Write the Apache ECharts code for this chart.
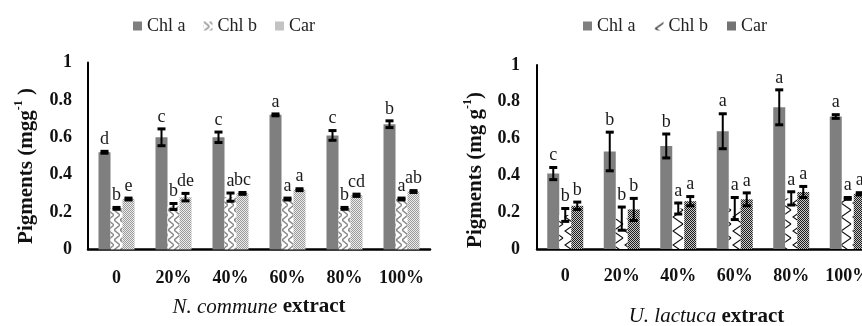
<!DOCTYPE html>
<html>
<head>
<meta charset="utf-8">
<script src="https://cdn.jsdelivr.net/npm/echarts@6/dist/echarts.min.js"></script>
<style>
html,body{margin:0;padding:0;background:#fff;}
#chart{width:862px;height:326px;}
</style>
</head>
<body>
<div id="chart"></div>
<script>
// ---------- data ----------
const categories = ['0', '20%', '40%', '60%', '80%', '100%'];
const seriesNames = ['Chl a', 'Chl b', 'Car'];

// N. commune extract (left panel)
const ncChlA = [0.52, 0.60, 0.60, 0.72, 0.61, 0.67];
const ncChlAErr = [0.005, 0.045, 0.028, 0.005, 0.026, 0.018];
const ncChlB = [0.22, 0.23, 0.28, 0.27, 0.22, 0.27];
const ncChlBErr = [0.005, 0.016, 0.022, 0.005, 0.005, 0.005];
const ncCar = [0.27, 0.28, 0.30, 0.32, 0.29, 0.31];
const ncCarErr = [0.005, 0.02, 0.005, 0.005, 0.006, 0.005];
const ncChlALetters = ['d', 'c', 'c', 'a', 'c', 'b'];
const ncChlBLetters = ['b', 'b', 'a', 'a', 'b', 'a'];
const ncCarLetters = ['e', 'de', 'bc', 'a', 'cd', 'ab'];

// U. lactuca extract (right panel)
const ulChlA = [0.41, 0.53, 0.56, 0.64, 0.77, 0.72];
const ulChlAErr = [0.033, 0.105, 0.065, 0.095, 0.095, 0.01];
const ulChlB = [0.185, 0.165, 0.22, 0.22, 0.275, 0.275];
const ulChlBErr = [0.035, 0.063, 0.03, 0.06, 0.036, 0.005];
const ulCar = [0.235, 0.215, 0.26, 0.27, 0.31, 0.30];
const ulCarErr = [0.02, 0.06, 0.025, 0.035, 0.03, 0.006];
const ulChlALetters = ['c', 'b', 'b', 'a', 'a', 'a'];
const ulChlBLetters = ['b', 'b', 'a', 'a', 'a', 'a'];
const ulCarLetters = ['b', 'b', 'a', 'a', 'a', 'a'];

// ---------- styles ----------
const FONT = '"Liberation Serif", "Times New Roman", serif';
const GRAY = '#7f7f7f';
const BAR_W = 12;

function makePattern(w, h, draw) {
  const c = document.createElement('canvas');
  c.width = w; c.height = h;
  const ctx = c.getContext('2d');
  draw(ctx, w, h);
  return { image: c, repeat: 'repeat' };
}
// left Chl b: gray zigzag on white
const patZigzag = makePattern(6, 10, (ctx, w, h) => {
  ctx.fillStyle = '#fff'; ctx.fillRect(0, 0, w, h);
  ctx.strokeStyle = '#8c8c8c'; ctx.lineWidth = 1.5;
  ctx.beginPath(); ctx.moveTo(0, 0); ctx.lineTo(w, h / 2); ctx.lineTo(0, h); ctx.stroke();
});
// left Car: light gray stipple
const patStippleLight = makePattern(2, 2, (ctx) => {
  ctx.fillStyle = '#ececec'; ctx.fillRect(0, 0, 2, 2);
  ctx.fillStyle = '#9a9a9a'; ctx.fillRect(0, 0, 1, 1); ctx.fillRect(1, 1, 1, 1);
});
// right Chl b: black chevrons on white
const patChevron = makePattern(12, 14, (ctx, w, h) => {
  ctx.fillStyle = '#fff'; ctx.fillRect(0, 0, w, h);
  ctx.strokeStyle = '#111'; ctx.lineWidth = 1.1;
  ctx.beginPath(); ctx.moveTo(w - 1, 0); ctx.lineTo(1, h / 2); ctx.lineTo(w - 1, h); ctx.stroke();
});
// right Car: dark checker
const patCheckerDark = makePattern(2, 2, (ctx) => {
  ctx.fillStyle = '#c8c8c8'; ctx.fillRect(0, 0, 2, 2);
  ctx.fillStyle = '#1e1e1e'; ctx.fillRect(0, 0, 1, 1); ctx.fillRect(1, 1, 1, 1);
});

const leftFills = [GRAY, patZigzag, patStippleLight];
const rightFills = [GRAY, patChevron, patCheckerDark];

function barSeries(name, values, fill, axis) {
  return {
    type: 'bar', name: name, data: values,
    xAxisIndex: axis, yAxisIndex: axis,
    barWidth: BAR_W, barGap: '0%',
    itemStyle: { color: fill },
    z: 2
  };
}

function errSeries(k, values, errs, letters, axis) {
  return {
    type: 'custom', name: 'err' + axis + k,
    xAxisIndex: axis, yAxisIndex: axis, z: 5, silent: true,
    data: values.map((v, i) => [i, v, errs[i]]),
    renderItem: function (params, api) {
      const i = api.value(0), v = api.value(1), e = api.value(2);
      const c = api.coord([i, v]);
      const cx = c[0] + (k - 1) * BAR_W;
      const yt = api.coord([i, v + e])[1];
      const yb = api.coord([i, v - e])[1];
      const hw = 4;
      return {
        type: 'group',
        children: [
          { type: 'line', shape: { x1: cx, y1: yt, x2: cx, y2: yb }, style: { stroke: '#000', lineWidth: 2 } },
          { type: 'line', shape: { x1: cx - hw, y1: yt, x2: cx + hw, y2: yt }, style: { stroke: '#000', lineWidth: 3 } },
          { type: 'line', shape: { x1: cx - hw, y1: yb, x2: cx + hw, y2: yb }, style: { stroke: '#000', lineWidth: 3 } },
          { type: 'text', style: {
              x: cx, y: yt - 3, text: letters[params.dataIndex],
              fill: '#1a1a1a', fontSize: 18, fontFamily: FONT,
              align: 'center', verticalAlign: 'bottom',
              textAlign: 'center', textVerticalAlign: 'bottom'
          } }
        ]
      };
    }
  };
}

function legendData(fills) {
  return seriesNames.map((n, k) => ({ name: n, itemStyle: { color: fills[k], borderWidth: 0 } }));
}

const xAxisCommon = {
  type: 'category', data: categories,
  axisLine: { lineStyle: { color: '#000', width: 2.5 } },
  axisTick: { show: false },
  axisLabel: { interval: 0, fontSize: 18, fontWeight: 'bold', color: '#111', fontFamily: FONT },
  nameLocation: 'middle'
};
const yAxisCommon = {
  type: 'value', min: 0, max: 1, interval: 0.2,
  axisLine: { show: true, lineStyle: { color: '#000', width: 2 } },
  axisTick: { show: false },
  splitLine: { show: false },
  axisLabel: { fontSize: 18, fontWeight: 'bold', color: '#111', fontFamily: FONT },
  nameLocation: 'middle', nameRotate: 90, nameGap: 48
};
const yNameRich = {
  t: { fontSize: 21, fontWeight: 'bold', fontFamily: FONT, color: '#111', lineHeight: 27 },
  s: { fontSize: 12, fontWeight: 'bold', fontFamily: FONT, color: '#111', verticalAlign: 'top' }
};
function xNameRich(size) {
  return {
    i: { fontSize: size, fontStyle: 'italic', fontFamily: FONT, color: '#111' },
    b: { fontSize: size, fontWeight: 'bold', fontFamily: FONT, color: '#111' }
  };
}

const option = {
  animation: false,
  backgroundColor: '#fff',
  textStyle: { fontFamily: FONT },
  legend: [
    { left: 128, top: 12, icon: 'rect', itemWidth: 9, itemHeight: 9, itemGap: 18,
      selectedMode: false,
      textStyle: { fontSize: 18, color: '#222', fontFamily: FONT },
      data: legendData(leftFills) },
    { left: 578, top: 12, icon: 'rect', itemWidth: 9, itemHeight: 9, itemGap: 19,
      selectedMode: false,
      textStyle: { fontSize: 18, color: '#222', fontFamily: FONT },
      data: legendData(rightFills) }
  ],
  grid: [
    { left: 88, width: 342, top: 62.5, height: 187, outerBoundsMode: 'none', containLabel: false },
    { left: 537, width: 339, top: 65, height: 184, outerBoundsMode: 'none', containLabel: false }
  ],
  xAxis: [
    Object.assign({}, xAxisCommon, {
      gridIndex: 0,
      axisLabel: Object.assign({}, xAxisCommon.axisLabel, { margin: 20 }),
      name: '{i|N. commune}{b| extract}', nameGap: 47,
      nameTextStyle: { rich: xNameRich(21) }
    }),
    Object.assign({}, xAxisCommon, {
      gridIndex: 1,
      axisLabel: Object.assign({}, xAxisCommon.axisLabel, { margin: 18 }),
      name: '{i|U. lactuca}{b| extract}', nameGap: 57,
      nameTextStyle: { rich: xNameRich(21) }
    })
  ],
  yAxis: [
    Object.assign({}, yAxisCommon, {
      gridIndex: 0,
      axisLabel: Object.assign({}, yAxisCommon.axisLabel, { margin: 16 }),
      name: '{t|Pigments (mgg}{s|-1}{t| )}',
      nameTextStyle: { rich: yNameRich, padding: [0, 20, 0, 0] }
    }),
    Object.assign({}, yAxisCommon, {
      gridIndex: 1,
      axisLabel: Object.assign({}, yAxisCommon.axisLabel, { margin: 17 }),
      name: '{t|Pigments (mg g}{s|-1}{t|)}',
      nameTextStyle: { rich: yNameRich, padding: [0, 26, 0, 0] }
    })
  ],
  series: [
    barSeries('Chl a', ncChlA, leftFills[0], 0),
    barSeries('Chl b', ncChlB, leftFills[1], 0),
    barSeries('Car', ncCar, leftFills[2], 0),
    errSeries(0, ncChlA, ncChlAErr, ncChlALetters, 0),
    errSeries(1, ncChlB, ncChlBErr, ncChlBLetters, 0),
    errSeries(2, ncCar, ncCarErr, ncCarLetters, 0),
    barSeries('Chl a', ulChlA, rightFills[0], 1),
    barSeries('Chl b', ulChlB, rightFills[1], 1),
    barSeries('Car', ulCar, rightFills[2], 1),
    errSeries(0, ulChlA, ulChlAErr, ulChlALetters, 1),
    errSeries(1, ulChlB, ulChlBErr, ulChlBLetters, 1),
    errSeries(2, ulCar, ulCarErr, ulCarLetters, 1)
  ]
};

const chart = echarts.init(document.getElementById('chart'), null, { renderer: 'canvas' });
chart.setOption(option);
</script>
</body>
</html>
